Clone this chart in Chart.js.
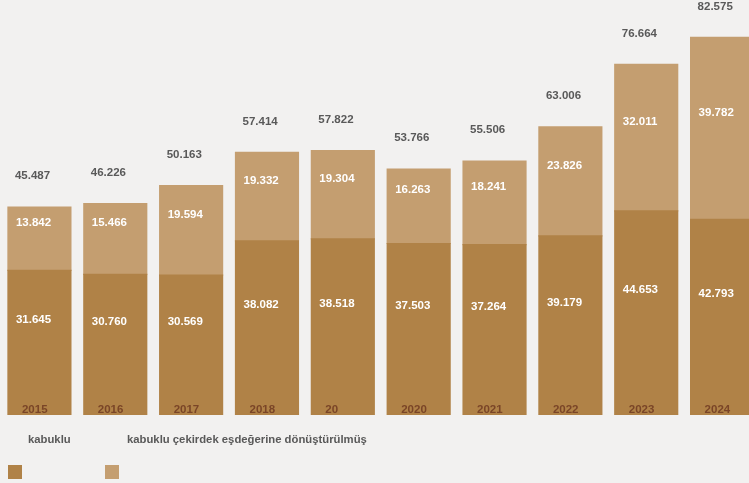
<!DOCTYPE html>
<html>
<head>
<meta charset="utf-8">
<script src="https://cdn.jsdelivr.net/npm/chart.js@4/dist/chart.umd.min.js"></script>
<style>
  html, body { margin: 0; padding: 0; background: #f2f1f0; overflow: hidden; width: 749px; height: 483px; }
  #wrap { position: absolute; left: 0; top: 0; width: 760px; height: 483px; }
  .lg { position: absolute; font: bold 11.3px "Liberation Sans", Arial, sans-serif; color: #595959; }
  .sw { position: absolute; width: 14px; height: 14px; }
</style>
</head>
<body>
<div id="wrap"><canvas id="mycanvas" width="760" height="483"></canvas></div>
<div class="lg" style="left:28px; top:433px;">kabuklu</div>
<div class="lg" style="left:127px; top:433px;">kabuklu çekirdek eşdeğerine dönüştürülmüş</div>
<div class="sw" style="left:8px; top:465px; background:#b08247;"></div>
<div class="sw" style="left:105px; top:465px; background:#c49e70;"></div>
<script>
var years = ["2015", "2016", "2017", "2018", "20", "2020", "2021", "2022", "2023", "2024"];
var kabuklu = [31645, 30760, 30569, 38082, 38518, 37503, 37264, 39179, 44653, 42793];
var cekirdek = [13842, 15466, 19594, 19332, 19304, 16263, 18241, 23826, 32011, 39782];
var totals = [45487, 46226, 50163, 57414, 57822, 53766, 55506, 63006, 76664, 82575];

function fmt(v) {
  return v.toLocaleString("de-DE");
}

var labelPlugin = {
  id: "barLabels",
  afterDatasetsDraw: function(chart) {
    var ctx = chart.ctx;
    var m0 = chart.getDatasetMeta(0);
    var m1 = chart.getDatasetMeta(1);
    ctx.save();
    ctx.font = "bold 11.5px 'Liberation Sans', Arial, sans-serif";
    ctx.textBaseline = "middle";
    ctx.textAlign = "left";
    for (var i = 0; i < years.length; i++) {
      var b0 = m0.data[i], b1 = m1.data[i];
      var left = b0.x - b0.width / 2;
      // bottom segment
      ctx.fillStyle = "#ffffff";
      ctx.fillText(fmt(kabuklu[i]), left + 8, (b0.y + b0.base) / 2 - 23);
      // top segment
      ctx.fillText(fmt(cekirdek[i]), left + 8, (b1.y + b1.base) / 2 - 16);
      // total
      ctx.fillStyle = "#595959";
      ctx.fillText(fmt(totals[i]), left + 7, b1.y - 31);
      // year
      ctx.fillStyle = "#7a4527";
      ctx.fillText(years[i], left + 14, b0.base - 5);
    }
    ctx.restore();
  }
};

var chartdata = {
  labels: years,
  datasets: [
    {
      label: "kabuklu",
      backgroundColor: "#b08247",
      data: kabuklu,
      barPercentage: 0.83,
      categoryPercentage: 1,
      inflateAmount: 0.6
    },
    {
      label: "kabuklu çekirdek eşdeğerine dönüştürülmüş",
      backgroundColor: "#c49e70",
      data: cekirdek,
      barPercentage: 0.83,
      categoryPercentage: 1,
      inflateAmount: 0.6
    }
  ]
};

var ctx = document.getElementById("mycanvas");

var BarGraph = new Chart(ctx, {
  type: "bar",
  data: chartdata,
  options: {
    responsive: false,
    animation: false,
    layout: { padding: { left: 1.5, right: 0, top: 0, bottom: 68 } },
    plugins: { legend: { display: false }, tooltip: { enabled: false } },
    scales: {
      x: { stacked: true, display: false },
      y: { stacked: true, display: false, min: 0, max: 90750 }
    }
  },
  plugins: [labelPlugin]
});
</script>
</body>
</html>
